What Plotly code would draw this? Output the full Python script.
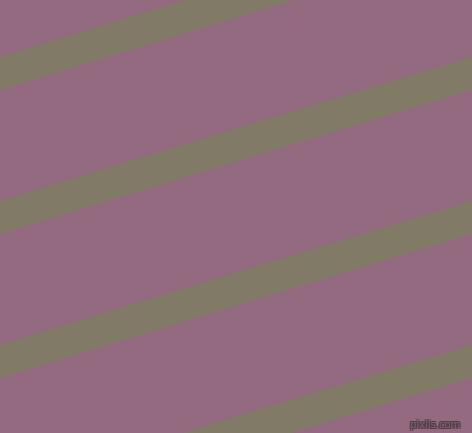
import numpy as np
import plotly.graph_objects as go

# stripe data (pixel units, y measured downward from the top)
stripe_top_at_left = [57, 201, 345, 489]   # top edge of each band where it meets x=0
stripe_thickness = 33                       # vertical thickness of a band
stripe_slope = 0.305                        # rise per pixel to the right
canvas_w, canvas_h = 472, 433

bg_color = '#946A81'
stripe_color = '#817A66'

fig = go.Figure()
for b in stripe_top_at_left:
    xs = np.array([0, canvas_w, canvas_w, 0, 0])
    ys = np.array([b, b - stripe_slope * canvas_w,
                   b - stripe_slope * canvas_w + stripe_thickness,
                   b + stripe_thickness, b])
    fig.add_trace(go.Scatter(x=xs, y=ys, mode='lines', fill='toself',
                             fillcolor=stripe_color, line=dict(width=0),
                             hoverinfo='skip', showlegend=False))

fig.add_annotation(x=462, y=424, xref='x', yref='y', text='pixlis.com',
                   showarrow=False, xanchor='right', yanchor='middle',
                   font=dict(family='DejaVu Sans', size=10, color='#7d5f70',
                             shadow='1px 1px 0 #4b3a44, -1px -1px 0 #4b3a44, 1px -1px 0 #4b3a44, -1px 1px 0 #4b3a44'))

fig.update_xaxes(range=[0, canvas_w], visible=False, fixedrange=True)
fig.update_yaxes(range=[canvas_h, 0], visible=False, fixedrange=True)
fig.update_layout(width=canvas_w, height=canvas_h,
                  margin=dict(l=0, r=0, t=0, b=0),
                  paper_bgcolor=bg_color, plot_bgcolor=bg_color)

# drop the browser's default page margin so the figure fills the window
fig.write_html("out.html", config={'displayModeBar': False},
               post_script="document.body.style.margin='0';document.body.style.overflow='hidden';")
